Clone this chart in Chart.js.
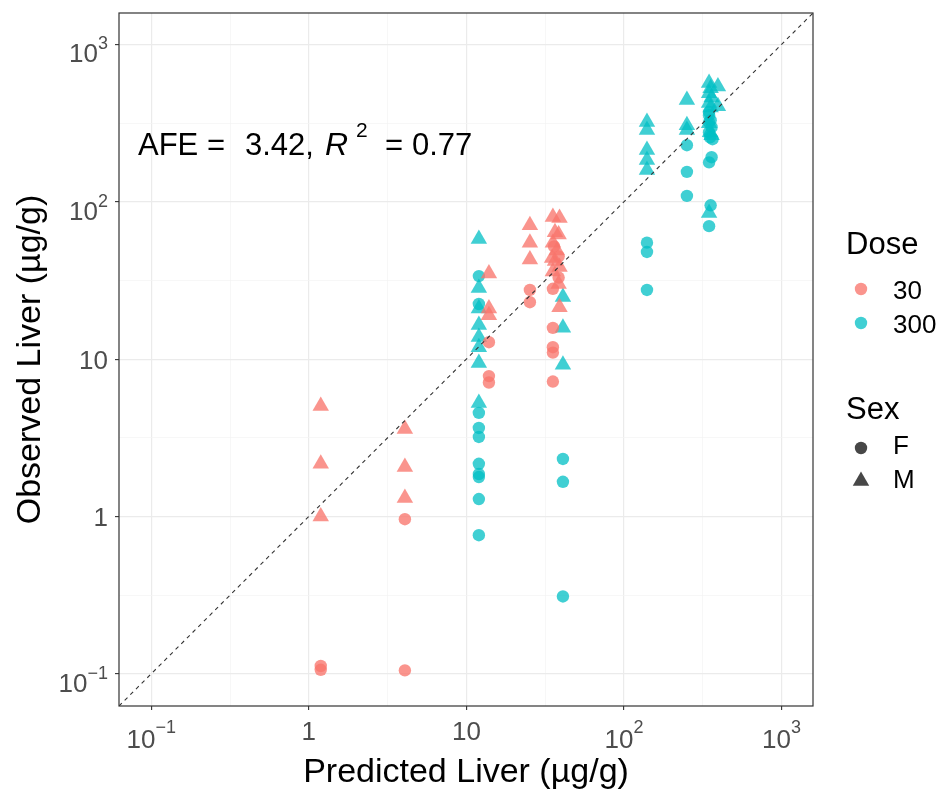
<!DOCTYPE html>
<html>
<head>
<meta charset="utf-8">
<script src="https://cdn.jsdelivr.net/npm/chart.js@4.4.1/dist/chart.umd.min.js"></script>
<style>
  html, body { margin: 0; padding: 0; background: #fff; }
</style>
</head>
<body>
<canvas id="chart" width="947" height="798"></canvas>
<script>
// Dose 30, female (circles)
const d30F_x = [1.19, 1.19, 4.07, 4.07, 13.9, 13.9, 13.9, 25.3, 25.3, 35.4, 38.5, 35.4, 35.4, 35.4, 35.4, 38.5, 36];
const d30F_y = [0.112, 0.106, 0.96, 0.105, 12.8, 7.8, 7.1, 27.5, 23, 28, 33, 15.8, 11.9, 11, 7.2, 45, 52];
// Dose 30, male (triangles)
const d30M_x = [1.19, 1.19, 1.19, 4.07, 4.07, 4.07, 13.9, 13.9, 13.9, 25.3, 25.3, 25.3, 35.4, 39, 36.5, 38.5, 35.4, 37.5, 35, 36.5, 39, 35.4, 38.5, 39];
const d30M_y = [5.03, 2.16, 1.0, 3.6, 2.06, 1.31, 35, 21, 19, 71, 55, 43, 80, 79, 64, 62, 55, 49, 44, 42, 38.5, 36, 30, 21.4];
// Dose 300, female (circles)
const d300F_x = [12, 12, 12, 12, 12, 12, 12, 12, 12, 12, 41, 41, 41, 140, 140, 140, 251, 251, 251, 347, 347, 355, 360, 347, 352, 360, 347, 355, 347, 347, 365];
const d300F_y = [33.7, 22.4, 4.55, 3.65, 3.2, 2.16, 1.86, 1.78, 1.29, 0.76, 2.32, 1.66, 0.31, 55, 48, 27.5, 229, 155, 109, 372, 355, 330, 298, 277, 257, 192, 178, 95, 70, 320, 250];
// Dose 300, male (triangles)
const d300M_x = [12, 12, 12, 12, 12, 12, 12, 12, 41, 41, 41, 140, 140, 140, 140, 140, 251, 251, 251, 347, 355, 347, 360, 347, 355, 347, 352, 347, 395, 395, 360];
const d300M_y = [58, 28.3, 21, 16.5, 13.8, 11.9, 9.45, 5.26, 24.8, 15.8, 9.2, 321, 286, 213, 184, 159, 443, 307, 286, 568, 527, 490, 460, 424, 398, 316, 277, 85, 540, 405, 265];

// axes: labels are "10" with an exponent, or plain text when exponent is null
const axisMin = Math.pow(10, -1.205);
const axisMax = Math.pow(10, 3.2);
const majorTicks = [0.1, 1, 10, 100, 1000];
const tickBase = ['10', '1', '10', '10', '10'];
const tickExp = ['\u22121', null, null, '2', '3'];
const minorTicks = [Math.pow(10, -0.5), Math.pow(10, 0.5), Math.pow(10, 1.5), Math.pow(10, 2.5)];

const FONT = "'Liberation Sans', Arial, Helvetica, sans-serif";
const RED = 'rgba(248, 118, 109, 0.78)';
const TEAL = 'rgba(0, 191, 196, 0.75)';
const TICK_GREY = '#4D4D4D';

const pts = (xs, ys) => xs.map((x, i) => ({ x: x, y: ys[i] }));
const isMajor = v => Math.abs(Math.log10(v) - Math.round(Math.log10(v))) < 1e-6;

function scatterSet(label, xs, ys, color, style) {
    return {
        type: 'scatter',
        label: label,
        data: pts(xs, ys),
        backgroundColor: color,
        borderWidth: 0,
        pointStyle: style,
        pointRadius: style === 'triangle' ? 9.5 : 6.2,
        pointHoverRadius: style === 'triangle' ? 9.5 : 6.2,
        order: 1
    };
}

function axisOpts(afterFitFn) {
    return {
        type: 'logarithmic',
        min: axisMin,
        max: axisMax,
        afterBuildTicks: s => {
            s.ticks = majorTicks.concat(minorTicks).sort((a, b) => a - b).map(v => ({ value: v }));
        },
        afterFit: afterFitFn,
        grid: {
            color: c => isMajor(c.tick.value) ? '#EBEBEB' : '#F3F3F3',
            lineWidth: c => isMajor(c.tick.value) ? 1.2 : 0.7,
            tickColor: c => isMajor(c.tick.value) ? '#333333' : 'rgba(0,0,0,0)',
            tickWidth: 1.1,
            tickLength: 4
        },
        border: { display: false },
        ticks: { display: false }
    };
}

// tick labels with real superscripts, placed from the scales
const tickLabels = {
    id: 'tickLabels',
    afterDraw(chart) {
        const ctx = chart.ctx;
        const xs = chart.scales.x, ys = chart.scales.y;
        const base = '26px ' + FONT, sup = '18px ' + FONT;
        ctx.save();
        ctx.fillStyle = TICK_GREY;
        ctx.textBaseline = 'alphabetic';
        majorTicks.forEach((v, i) => {
            // x axis
            const px = xs.getPixelForValue(v);
            if (tickExp[i] === null) {
                ctx.font = base; ctx.textAlign = 'center';
                ctx.fillText(tickBase[i], px, 740);
            } else {
                ctx.font = base;
                const wb = ctx.measureText(tickBase[i]).width;
                ctx.font = sup;
                const we = ctx.measureText(tickExp[i]).width;
                const x0 = px - (wb + we) / 2;
                ctx.textAlign = 'left';
                ctx.font = base; ctx.fillText(tickBase[i], x0, 748);
                ctx.font = sup; ctx.fillText(tickExp[i], x0 + wb, 733);
            }
            // y axis
            const py = ys.getPixelForValue(v);
            ctx.textAlign = 'right';
            if (tickExp[i] === null) {
                ctx.font = base;
                ctx.fillText(tickBase[i], 108, py + 10);
            } else {
                ctx.font = sup;
                const we = ctx.measureText(tickExp[i]).width;
                ctx.fillText(tickExp[i], 108, py + 5);
                ctx.font = base;
                ctx.fillText(tickBase[i], 108 - we, py + 18);
            }
        });
        ctx.restore();
    }
};

// panel border, AFE label and the two-part legend
const extras = {
    id: 'extras',
    afterDatasetsDraw(chart) {
        const { ctx, chartArea: a } = chart;
        ctx.save();
        ctx.strokeStyle = '#333333';
        ctx.lineWidth = 1.2;
        ctx.strokeRect(a.left, a.top, a.right - a.left, a.bottom - a.top);

        ctx.fillStyle = '#000';
        ctx.textBaseline = 'alphabetic';
        ctx.textAlign = 'left';
        ctx.font = '31px ' + FONT;
        ctx.fillText('AFE =', 138, 155);
        ctx.fillText('3.42,', 245, 155);
        ctx.font = 'italic 32px ' + FONT;
        ctx.fillText('R', 325, 155);
        ctx.font = '21px ' + FONT;
        ctx.fillText('2', 356, 137);
        ctx.font = '31px ' + FONT;
        ctx.fillText('=', 385, 155);
        ctx.fillText('0.77', 412, 155);
        ctx.restore();
    },
    afterDraw(chart) {
        const ctx = chart.ctx;
        ctx.save();
        ctx.textAlign = 'left';
        ctx.textBaseline = 'middle';
        ctx.fillStyle = '#000';
        ctx.font = '31px ' + FONT;
        ctx.fillText('Dose', 846, 245);
        ctx.fillText('Sex', 846, 410);
        ctx.font = '26px ' + FONT;
        ctx.fillText('30', 893, 292);
        ctx.fillText('300', 893, 326);
        ctx.fillText('F', 893, 447);
        ctx.fillText('M', 893, 481);

        const circle = (x, y, col) => {
            ctx.fillStyle = col;
            ctx.beginPath();
            ctx.arc(x, y, 6.2, 0, Math.PI * 2);
            ctx.fill();
        };
        circle(861, 289, RED);
        circle(861, 323, TEAL);
        circle(861, 448, 'rgba(0,0,0,0.72)');
        const r = 9.5;
        ctx.fillStyle = 'rgba(0,0,0,0.72)';
        ctx.beginPath();
        ctx.moveTo(861, 481 - r);
        ctx.lineTo(861 + r * Math.sqrt(3) / 2, 481 + r / 2);
        ctx.lineTo(861 - r * Math.sqrt(3) / 2, 481 + r / 2);
        ctx.closePath();
        ctx.fill();
        ctx.restore();
    }
};

new Chart(document.getElementById('chart'), {
    type: 'scatter',
    data: {
        datasets: [
            {
                type: 'line',
                label: 'identity',
                data: [{ x: axisMin, y: axisMin }, { x: axisMax, y: axisMax }],
                borderColor: '#333333',
                borderWidth: 1.1,
                borderDash: [4, 4],
                pointRadius: 0,
                fill: false,
                order: 0
            },
            scatterSet('30 F', d30F_x, d30F_y, RED, 'circle'),
            scatterSet('30 M', d30M_x, d30M_y, RED, 'triangle'),
            scatterSet('300 F', d300F_x, d300F_y, TEAL, 'circle'),
            scatterSet('300 M', d300M_x, d300M_y, TEAL, 'triangle')
        ]
    },
    options: {
        responsive: false,
        animation: false,
        layout: { padding: { top: 13, right: 134, left: 0, bottom: 0 } },
        plugins: { legend: { display: false }, tooltip: { enabled: false } },
        scales: {
            x: Object.assign(axisOpts(s => { s.height = 92; s.paddingLeft = 0; s.paddingRight = 0; }), {
                position: 'bottom',
                title: {
                    display: true,
                    text: 'Predicted Liver (\u00B5g/g)',
                    color: '#000',
                    font: { family: FONT, size: 34 },
                    padding: { top: 0, bottom: 5 }
                }
            }),
            y: Object.assign(axisOpts(s => { s.width = 119; s.paddingTop = 0; s.paddingBottom = 0; }), {
                position: 'left',
                title: {
                    display: true,
                    text: 'Observed Liver (\u00B5g/g)',
                    color: '#000',
                    font: { family: FONT, size: 34 },
                    padding: { top: 10, bottom: 0 }
                }
            })
        }
    },
    plugins: [extras, tickLabels]
});
</script>
</body>
</html>
